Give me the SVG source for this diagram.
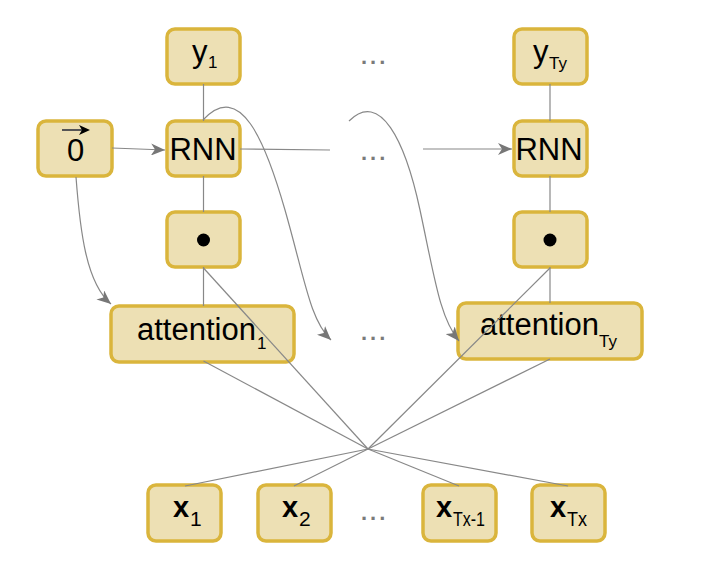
<svg xmlns="http://www.w3.org/2000/svg" width="708" height="577" viewBox="0 0 708 577">
<style>
.n{fill:#ede0b4;stroke:#dab53c;stroke-width:3.5}
.t{font-family:"Liberation Sans",Arial,sans-serif;fill:#000}
.c{fill:none;stroke:#888;stroke-width:1.2}
.d{font-family:"Liberation Sans",Arial,sans-serif;font-size:22px;font-weight:bold;fill:#7a7a7a;letter-spacing:3px}
</style>
<defs>
<marker id="ah" markerUnits="userSpaceOnUse" markerWidth="16" markerHeight="12" viewBox="0 0 16 12" refX="14" refY="6" orient="auto">
<path d="M0,0 L14,6 L0,12 L4,6 z" fill="#777"/>
</marker>
</defs>
<rect width="708" height="577" fill="#fff"/>
<g id="y1"><rect class="n" x="167" y="29" width="73" height="55" rx="8"/><text class="t" x="192" y="62" font-size="31">y</text><text class="t" x="208" y="68" font-size="17">1</text></g>
<g id="yTy"><rect class="n" x="514" y="29" width="73" height="55" rx="8"/><text class="t" x="533" y="62" font-size="31">y</text><text class="t" x="549" y="69" font-size="17">Ty</text></g>
<g id="zero"><rect class="n" x="38" y="121" width="74" height="55" rx="8"/><text class="t" x="75.5" y="161" font-size="31" text-anchor="middle">0</text><line x1="62" y1="130" x2="82" y2="130" stroke="#555" stroke-width="2"/><polygon points="79,125 90,130 79,135 82,130" fill="#000"/></g>
<g id="rnn1"><rect class="n" x="167" y="121" width="73" height="55" rx="8"/><text class="t" x="203" y="160" font-size="31" text-anchor="middle">RNN</text></g>
<g id="rnn2"><rect class="n" x="514" y="121" width="73" height="55" rx="8"/><text class="t" x="549" y="160" font-size="31" text-anchor="middle">RNN</text></g>
<g id="dot1"><rect class="n" x="167" y="212" width="73" height="55" rx="8"/><circle cx="203.5" cy="240" r="6.5" fill="#000"/></g>
<g id="dot2"><rect class="n" x="514" y="212" width="73" height="55" rx="8"/><circle cx="550" cy="240" r="6.5" fill="#000"/></g>
<g id="att1"><rect class="n" x="111" y="306" width="183" height="56" rx="8"/><text class="t" x="137" y="340" font-size="31">attention</text><text class="t" x="257" y="349" font-size="17">1</text></g>
<g id="attTy"><rect class="n" x="458" y="303" width="184" height="56" rx="8"/><text class="t" x="480" y="335" font-size="31">attention</text><text class="t" x="599" y="347" font-size="17">Ty</text></g>
<g id="x1"><rect class="n" x="148" y="485" width="73" height="56" rx="8"/><text class="t" x="173" y="517" font-size="29" font-weight="bold">x</text><text class="t" x="190" y="526" font-size="21">1</text></g>
<g id="x2"><rect class="n" x="258" y="485" width="73" height="56" rx="8"/><text class="t" x="282" y="517" font-size="29" font-weight="bold">x</text><text class="t" x="299" y="526" font-size="21">2</text></g>
<g id="xTx1"><rect class="n" x="423" y="485" width="73" height="56" rx="8"/><text class="t" x="436" y="517" font-size="29" font-weight="bold">x</text><text class="t" x="453" y="526" font-size="21" textLength="32" lengthAdjust="spacingAndGlyphs">Tx-1</text></g>
<g id="xTx"><rect class="n" x="532" y="485" width="73" height="56" rx="8"/><text class="t" x="550" y="517" font-size="29" font-weight="bold">x</text><text class="t" x="567" y="526" font-size="21" textLength="20" lengthAdjust="spacingAndGlyphs">Tx</text></g>
<g id="connectors">
<line class="c" x1="203.5" y1="84" x2="203.5" y2="121"/>
<line class="c" x1="203.5" y1="176" x2="203.5" y2="212"/>
<line class="c" x1="203.5" y1="267" x2="203.5" y2="306"/>
<line class="c" x1="550" y1="84" x2="550" y2="121"/>
<line class="c" x1="550" y1="176" x2="550" y2="212"/>
<line class="c" x1="550" y1="267" x2="550" y2="303"/>
<line class="c" x1="112" y1="148" x2="165" y2="150" marker-end="url(#ah)"/>
<line class="c" x1="240" y1="149" x2="330" y2="150"/>
<line class="c" x1="423" y1="149" x2="512" y2="149" marker-end="url(#ah)"/>
<path class="c" d="M203,120 C240,80 265,140 285,210 S310,320 331,340" marker-end="url(#ah)"/>
<path class="c" d="M349,121 C380,90 405,140 420,210 S440,318 459,341" marker-end="url(#ah)"/>
<path class="c" d="M76,177 C80,230 86,283 111,304" marker-end="url(#ah)"/>
<line class="c" x1="203.5" y1="361" x2="368" y2="449"/>
<line class="c" x1="203.5" y1="268" x2="368" y2="449"/>
<line class="c" x1="550" y1="268" x2="368" y2="449"/>
<line class="c" x1="550" y1="359" x2="368" y2="449"/>
<line class="c" x1="368" y1="449" x2="185" y2="486"/>
<line class="c" x1="368" y1="449" x2="294" y2="486"/>
<line class="c" x1="368" y1="449" x2="459" y2="486"/>
<line class="c" x1="368" y1="449" x2="568" y2="486"/>
</g>
<text class="d" x="361" y="64">...</text>
<text class="d" x="361" y="160">...</text>
<text class="d" x="361" y="340">...</text>
<text class="d" x="361" y="520">...</text>
</svg>
